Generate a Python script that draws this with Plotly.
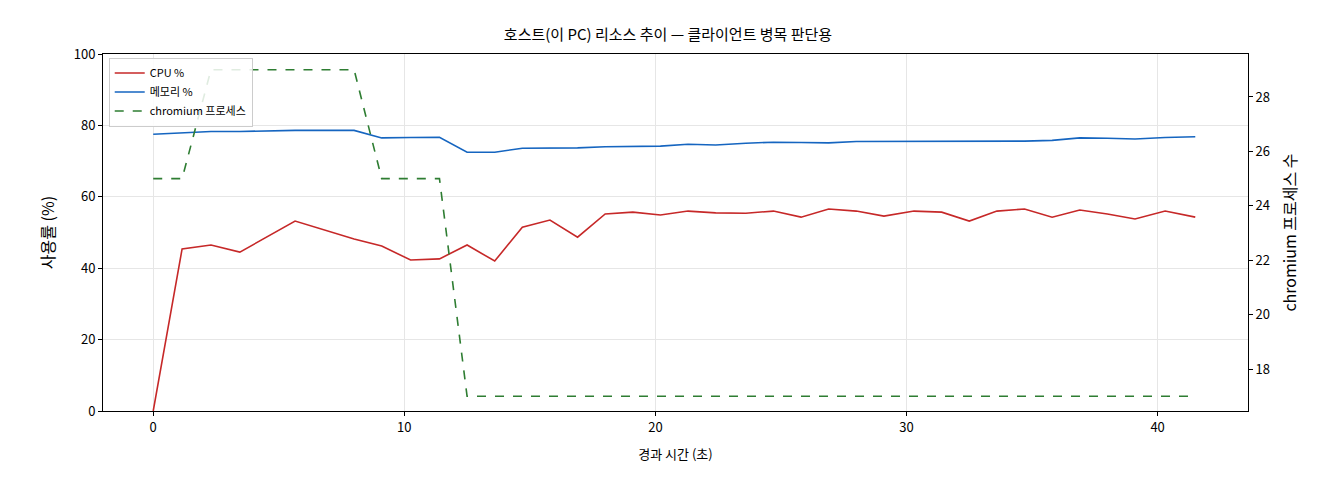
import plotly.graph_objects as go

t = [0, 1.15, 2.3, 3.45, 5.65, 8.0, 9.1, 10.25, 11.4, 12.5, 13.6, 14.7, 15.8, 16.9, 18.0, 19.1,
     20.2, 21.3, 22.4, 23.6, 24.7, 25.8, 26.9, 28.0, 29.1, 30.3, 31.4, 32.5, 33.6, 34.7, 35.8,
     36.9, 38.0, 39.1, 40.3, 41.5]
cpu = [0, 45.4, 46.5, 44.5, 53.2, 48.2, 46.2, 42.3, 42.6, 46.5, 42.0, 51.5, 53.5, 48.7, 55.2, 55.7,
       54.9, 56.0, 55.5, 55.4, 56.0, 54.3, 56.6, 56.0, 54.6, 56.0, 55.7, 53.2, 56.0, 56.6, 54.3,
       56.3, 55.2, 53.8, 56.0, 54.3]
mem = [77.5, 78.0, 78.3, 78.3, 78.6, 78.6, 76.5, 76.6, 76.7, 72.5, 72.5, 73.6, 73.6, 73.7, 74.0, 74.1,
       74.2, 74.7, 74.5, 75.0, 75.3, 75.2, 75.1, 75.5, 75.5, 75.6, 75.6, 75.7, 75.7, 75.6, 75.8,
       76.5, 76.4, 76.2, 76.6, 76.8]
procs = [25, 25, 29, 29, 29, 29, 25, 25, 25, 17, 17, 17, 17, 17, 17, 17,
         17, 17, 17, 17, 17, 17, 17, 17, 17, 17, 17, 17, 17, 17, 17,
         17, 17, 17, 17, 17]

fig = go.Figure()
fig.add_trace(go.Scatter(x=t, y=cpu, mode="lines", name="CPU %", line=dict(color="#c62828", width=1.6)))
fig.add_trace(go.Scatter(x=t, y=mem, mode="lines", name="메모리 %", line=dict(color="#1565c0", width=1.6)))
fig.add_trace(go.Scatter(x=t, y=procs, mode="lines", name="chromium 프로세스", yaxis="y2",
                         line=dict(color="#2e7d32", width=1.6, dash="dash")))

axis_common = dict(showline=True, linecolor="black", ticks="outside",
                   tickcolor="black", ticklen=4, zeroline=False)
fig.update_layout(
    width=1320, height=480,
    font=dict(family="Noto Sans CJK KR", size=13, color="black"),
    title=dict(text="호스트(이 PC) 리소스 추이 — 클라이언트 병목 판단용", x=0.5, y=0.955, font=dict(size=15)),
    plot_bgcolor="white", paper_bgcolor="white",
    margin=dict(l=95, r=80, t=46, b=77),
    xaxis=dict(range=[-2.0, 43.6], dtick=10, title=dict(text="경과 시간 (초)", font=dict(size=13)),
               showgrid=True, gridcolor="#e6e6e6", mirror=True, **axis_common),
    yaxis=dict(range=[0, 100], dtick=20, title=dict(text="사용률 (%)"),
               showgrid=True, gridcolor="#e6e6e6", **axis_common),
    yaxis2=dict(range=[16.46, 29.58], dtick=2, overlaying="y", side="right",
                title=dict(text="chromium 프로세스 수"), showgrid=False, **axis_common),
    legend=dict(x=0.005, y=0.99, xanchor="left", yanchor="top", bgcolor="rgba(255,255,255,0.85)",
                bordercolor="#cccccc", borderwidth=1, font=dict(size=11)),
    showlegend=True,
)
fig.write_html("out.html")
